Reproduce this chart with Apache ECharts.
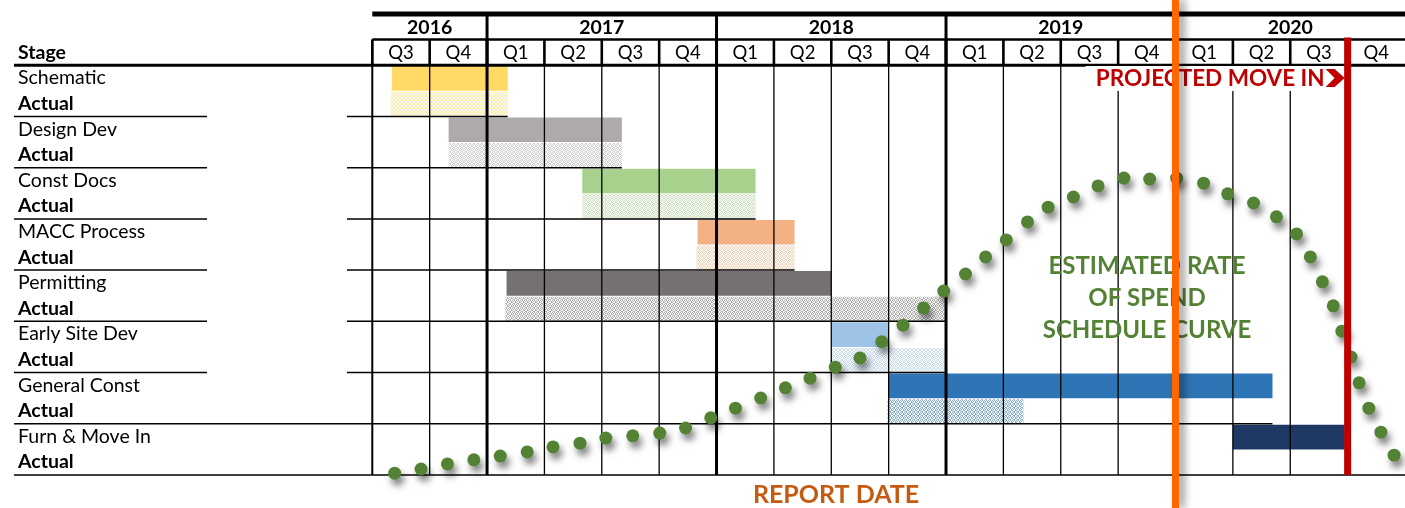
<!DOCTYPE html>
<html>
<head>
<meta charset="utf-8">
<script src="https://cdn.jsdelivr.net/npm/echarts@6/dist/echarts.min.js"></script>
<style>
html, body { margin: 0; padding: 0; background: #fff; }
#main { width: 1405px; height: 508px; }
</style>
</head>
<body>
<div id="main"></div>
<script>
// ---- data ----
var years = ['2016', '2017', '2018', '2019', '2020'];
var yearFirstQuarter = [0, 2, 6, 10, 14];
var quarters = ['Q3', 'Q4', 'Q1', 'Q2', 'Q3', 'Q4', 'Q1', 'Q2', 'Q3', 'Q4', 'Q1', 'Q2', 'Q3', 'Q4', 'Q1', 'Q2', 'Q3', 'Q4'];
var stages = ['Schematic', 'Design Dev', 'Const Docs', 'MACC Process', 'Permitting', 'Early Site Dev', 'General Const', 'Furn & Move In'];
// bar ends in quarters counted from 2016 Q3
var planStart = [0.34, 1.33, 3.66, 5.67, 2.34, 8.0, 9.0, 15.0];
var planEnd = [2.36, 4.35, 6.68, 7.36, 8.0, 9.0, 15.69, 16.95];
var actualStart = [0.32, 1.33, 3.66, 5.65, 2.32, 8.0, 8.98, null];
var actualEnd = [2.36, 4.35, 6.68, 7.36, 10.0, 9.98, 11.35, null];
// estimated rate of spend curve (percent of chart height)
var spendQuarter = [0.39, 0.85, 1.31, 1.77, 2.23, 2.70, 3.15, 3.62, 4.07, 4.54, 5.01, 5.46, 5.90, 6.33, 6.77, 7.20,
  7.63, 8.07, 8.50, 8.88, 9.25, 9.61, 9.96, 10.34, 10.69, 11.05, 11.42, 11.78, 12.22, 12.65, 13.10, 13.55,
  14.02, 14.49, 14.91, 15.36, 15.76, 16.11, 16.35, 16.56, 16.75, 16.90, 17.06, 17.20, 17.37, 17.58, 17.81];
var spendPct = [0.4, 1.3, 2.4, 3.3, 4.1, 5.0, 6.1, 6.9, 8.0, 8.5, 9.1, 10.2, 12.4, 14.5, 16.7, 18.9,
  21.0, 23.4, 25.4, 28.9, 32.5, 36.2, 39.9, 43.6, 47.3, 51.0, 54.9, 58.1, 60.3, 62.7, 64.4, 64.2,
  64.4, 63.3, 61.0, 59.0, 56.0, 52.3, 47.3, 41.9, 36.7, 31.2, 25.6, 20.0, 14.5, 9.3, 4.3];
var reportQuarter = 14;
var moveInQuarter = 17;

// ---- styles ----
var stageColors = ['#FFD966', '#AEAAAA', '#A9D18E', '#F4B183', '#767171', '#9DC3E6', '#2E75B6', '#203864'];
var FONT = 'Lato, "Noto Sans", sans-serif';
var labelLeft = 14, labelGapFrom = 207, labelGapTo = 347;
var fullLabelLine = [false, false, false, false, false, false, true, true];

function stipple(color) {
  var c = document.createElement('canvas');
  c.width = 4; c.height = 4;
  var ctx = c.getContext('2d');
  ctx.fillStyle = '#fff';
  ctx.fillRect(0, 0, 4, 4);
  ctx.fillStyle = color;
  ctx.globalAlpha = 0.6;
  [[0, 0], [2, 0], [1, 1], [3, 1], [0, 2], [3, 2], [1, 3], [2, 3]].forEach(function (p) {
    ctx.fillRect(p[0], p[1], 1, 1);
  });
  return { image: c, repeat: 'repeat' };
}

var rowLabels = ['', 'Stage'];
stages.forEach(function (s) { rowLabels.push(s, 'Actual'); });

var barData = [];
stages.forEach(function (s, i) {
  barData.push([planStart[i], planEnd[i], 2 + 2 * i, i, 0]);
  if (actualStart[i] != null) barData.push([actualStart[i], actualEnd[i], 3 + 2 * i, i, 1]);
});
var patterns = stageColors.map(stipple);

var chart = echarts.init(document.getElementById('main'));

function bandH(api) { return api.size([0, 1])[1]; }
function bandTop(api, b) { return api.coord([0, b])[1] - bandH(api) / 2; }

var option = {
  animation: false,
  grid: { left: 372.3, width: 1036.8, top: 14, bottom: 33 },
  xAxis: { type: 'value', min: 0, max: 18, show: false },
  yAxis: [{
    type: 'category',
    data: rowLabels,
    inverse: true,
    axisLine: { show: false },
    axisTick: { show: false },
    splitLine: { show: false },
    axisLabel: {
      interval: 0,
      align: 'left',
      margin: 372.3 - 18,
      color: '#000',
      fontFamily: FONT,
      fontSize: 19.5,
      formatter: function (v, i) {
        return (i === 1 || v === 'Actual') ? '{b|' + v + '}' : v;
      },
      rich: { b: { fontWeight: 'bold', fontSize: 19.5, fontFamily: FONT, color: '#000' } }
    }
  }, {
    type: 'value', min: 0, max: 100, show: false
  }],
  series: [
    {
      // planned and actual bars
      type: 'custom',
      z: 1,
      data: barData,
      encode: { x: [0, 1], y: 2 },
      renderItem: function (params, api) {
        var p0 = api.coord([api.value(0), api.value(2)]);
        var p1 = api.coord([api.value(1), api.value(2)]);
        var h = bandH(api);
        var si = api.value(3);
        return {
          type: 'rect',
          shape: { x: p0[0], y: p0[1] - h / 2 + 1, width: p1[0] - p0[0], height: h - 1 },
          style: { fill: api.value(4) ? patterns[si] : stageColors[si] }
        };
      }
    },
    {
      // quarter columns: vertical lines and quarter labels
      type: 'custom',
      z: 2,
      data: quarters.map(function (q, i) { return [i]; }),
      encode: { x: 0 },
      renderItem: function (params, api) {
        var i = api.value(0);
        var x = api.coord([i, 0])[0];
        var xn = api.coord([i + 1, 0])[0];
        var h = bandH(api);
        var yTop = bandTop(api, 0);
        var yQ = bandTop(api, 1);
        var yBot = bandTop(api, rowLabels.length - 1) + h;
        var isYear = i > 0 && yearFirstQuarter.indexOf(i) >= 0;
        var w = isYear ? 3 : (i === 0 ? 2 : 1.3);
        return {
          type: 'group',
          children: [
            { type: 'line', shape: { x1: x, y1: isYear ? yTop : yQ, x2: x, y2: yBot }, style: { stroke: '#000', lineWidth: w } },
            { type: 'line', shape: { x1: x, y1: yQ, x2: x, y2: yQ + h }, style: { stroke: '#000', lineWidth: isYear ? 3 : 2.6 } },
            {
              type: 'text',
              style: {
                text: quarters[i], x: (x + xn) / 2, y: yQ + h / 2 + 1,
                align: 'center', verticalAlign: 'middle',
                fontFamily: FONT, fontSize: 18.5, fill: '#000'
              }
            }
          ]
        };
      }
    },
    {
      // year header and frame lines
      type: 'custom',
      z: 2,
      data: years.map(function (y, i) { return [yearFirstQuarter[i], i < years.length - 1 ? yearFirstQuarter[i + 1] : quarters.length, i]; }),
      encode: { x: [0, 1] },
      renderItem: function (params, api) {
        var x0 = api.coord([api.value(0), 0])[0];
        var x1 = api.coord([api.value(1), 0])[0];
        var h = bandH(api);
        var yTop = bandTop(api, 0);
        var yQ = bandTop(api, 1);
        var yS = bandTop(api, 2);
        var right = api.coord([quarters.length, 0])[0];
        var children = [{
          type: 'text',
          style: {
            text: years[api.value(2)], x: (x0 + x1) / 2, y: yTop + h / 2 + 1,
            align: 'center', verticalAlign: 'middle',
            fontFamily: FONT, fontSize: 19.5, fontWeight: 'bold', fill: '#000'
          }
        }];
        if (api.value(2) === 0) {
          children.push(
            { type: 'line', shape: { x1: x0, y1: yTop, x2: right, y2: yTop }, style: { stroke: '#000', lineWidth: 5 } },
            { type: 'line', shape: { x1: x0, y1: yQ, x2: right, y2: yQ }, style: { stroke: '#000', lineWidth: 2.5 } },
            { type: 'line', shape: { x1: labelLeft, y1: yS, x2: right, y2: yS }, style: { stroke: '#000', lineWidth: 3 } }
          );
        }
        return { type: 'group', children: children };
      }
    },
    {
      // row separators below each stage
      type: 'custom',
      z: 2,
      data: stages.map(function (s, i) {
        var end = i === stages.length - 1 ? quarters.length : Math.max(planEnd[i], actualEnd[i] || 0);
        return [0, end, 3 + 2 * i, i];
      }),
      encode: { x: [0, 1], y: 2 },
      renderItem: function (params, api) {
        var y = api.coord([0, api.value(2)])[1] + bandH(api) / 2;
        var xe = api.coord([api.value(1), 0])[0];
        var i = api.value(3);
        var st = { stroke: '#000', lineWidth: 1.5 };
        var children = [];
        if (fullLabelLine[i]) {
          children.push({ type: 'line', shape: { x1: labelLeft, y1: y, x2: xe, y2: y }, style: st });
        } else {
          children.push({ type: 'line', shape: { x1: labelLeft, y1: y, x2: labelGapFrom, y2: y }, style: st });
          children.push({ type: 'line', shape: { x1: labelGapTo, y1: y, x2: xe, y2: y }, style: st });
        }
        return { type: 'group', children: children };
      }
    },
    {
      name: 'Estimated rate of spend',
      type: 'scatter',
      yAxisIndex: 1,
      z: 3,
      symbolSize: 13,
      data: spendQuarter.map(function (q, i) { return [q, spendPct[i]]; }),
      itemStyle: {
        color: '#548235',
        opacity: 1,
        shadowBlur: 7,
        shadowOffsetX: 3,
        shadowOffsetY: 6,
        shadowColor: 'rgba(0,0,0,0.5)'
      }
    },
    {
      // projected move in line + label
      type: 'custom',
      z: 4,
      data: [[moveInQuarter]],
      encode: { x: 0 },
      renderItem: function (params, api) {
        var x = api.coord([api.value(0), 0])[0];
        var h = bandH(api);
        var y0 = bandTop(api, 1) - 2;
        var y1 = bandTop(api, rowLabels.length - 1) + h;
        var yc = api.coord([0, 2])[1];
        var cx = x - 22;
        return {
          type: 'group',
          children: [
            {
              type: 'rect',
              shape: { x: cx - 240, y: yc - 12, width: 262, height: 25 },
              style: { fill: '#fff' }
            },
            {
              type: 'text',
              style: {
                text: 'PROJECTED MOVE IN', x: cx - 1, y: yc + 1,
                align: 'right', verticalAlign: 'middle',
                fontFamily: FONT, fontSize: 22.5, fontWeight: 'bold', fill: '#C00000'
              }
            },
            {
              type: 'polygon',
              shape: { points: [[cx, yc - 9], [cx + 9, yc - 9], [cx + 19, yc], [cx + 9, yc + 9], [cx, yc + 9], [cx + 9, yc]] },
              style: { fill: '#C00000' }
            },
            { type: 'line', shape: { x1: x, y1: y0, x2: x, y2: y1 }, style: { stroke: '#C00000', lineWidth: 7 } }
          ]
        };
      }
    },
    {
      // report date line
      type: 'custom',
      z: 6,
      data: [[reportQuarter]],
      encode: { x: 0 },
      renderItem: function (params, api) {
        var x = api.coord([api.value(0), 0])[0];
        return {
          type: 'line',
          shape: { x1: x, y1: 0, x2: x, y2: api.getHeight() },
          style: {
            stroke: '#FF6600', lineWidth: 7,
            shadowBlur: 8, shadowOffsetX: 5, shadowOffsetY: 0, shadowColor: 'rgba(0,0,0,0.45)'
          }
        };
      }
    }
  ],
  graphic: [
    {
      type: 'text', z: 5, x: 1147, y: 298,
      style: {
        text: 'ESTIMATED RATE\nOF SPEND\nSCHEDULE CURVE',
        align: 'center', verticalAlign: 'middle', lineHeight: 32,
        fontFamily: FONT, fontSize: 24, fontWeight: 'bold', fill: '#548235'
      }
    },
    {
      type: 'text', z: 5, x: 836, y: 495,
      style: {
        text: 'REPORT DATE',
        align: 'center', verticalAlign: 'middle',
        fontFamily: FONT, fontSize: 25, fontWeight: 'bold', fill: '#C55A11'
      }
    }
  ]
};

chart.setOption(option);
</script>
</body>
</html>
